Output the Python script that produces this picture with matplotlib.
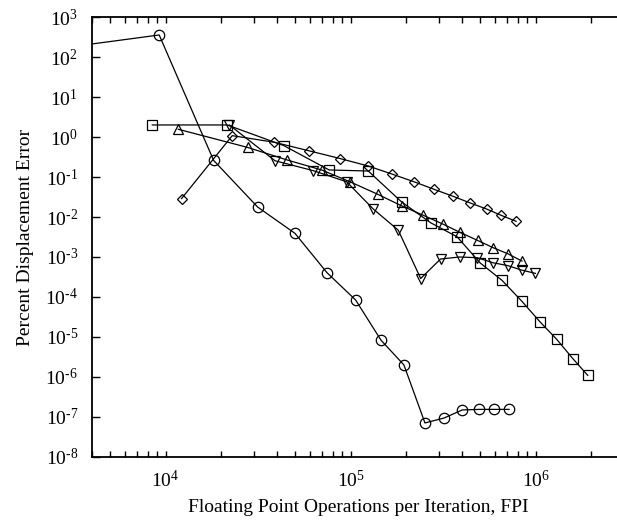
import numpy as np
import matplotlib
matplotlib.use('Agg')
import matplotlib.pyplot as plt
from matplotlib.ticker import LogLocator, FuncFormatter, NullLocator

plt.rcParams['font.family'] = 'Liberation Serif'
plt.rcParams['mathtext.fontset'] = 'custom'
plt.rcParams['mathtext.rm'] = 'Liberation Serif'
plt.rcParams['mathtext.it'] = 'Liberation Serif:italic'

# Error vs cost for the five schemes
circle_x = [2000, 9230, 18170, 31400, 50000, 74500, 106400, 145900, 194000,
            252000, 319000, 401000, 494000, 597000, 718000]
circle_y = [138, 355, 0.26, 0.0178, 0.0039, 4.05e-4, 8.4e-5, 8.3e-6, 2.0e-6,
            7.1e-8, 9.4e-8, 1.5e-7, 1.55e-7, 1.55e-7, 1.55e-7]

square_x = [8470, 21500, 43500, 76500, 124500, 188600, 271600, 376000, 501000,
            658000, 840000, 1054000, 1300000, 1585000, 1910000]
square_y = [2.0, 2.0, 0.61, 0.15, 0.141, 0.0237, 0.0071, 0.0032, 7.1e-4,
            2.6e-4, 7.9e-5, 2.4e-5, 8.7e-6, 2.9e-6, 1.1e-6]

diamond_x = [12200, 22900, 38600, 59700, 87500, 123600, 166700, 220000,
             283000, 357000, 443000, 543000, 651000, 783000]
diamond_y = [0.029, 1.08, 0.74, 0.45, 0.29, 0.19, 0.119, 0.076, 0.049,
             0.033, 0.0224, 0.0158, 0.011, 0.0078]

tri_up_x = [11700, 27700, 45400, 69700, 99100, 140000, 188600, 245000,
            314000, 391000, 485000, 590000, 708000, 843000]
tri_up_y = [1.56, 0.55, 0.266, 0.15, 0.076, 0.037, 0.019, 0.0112, 0.0067,
            0.0041, 0.0026, 0.0017, 0.0012, 7.9e-4]

tri_dn_x = [22100, 39000, 62800, 95100, 132500, 180700, 239000, 306000,
            388000, 483000, 586000, 706000, 840000, 996000]
tri_dn_y = [2.0, 0.255, 0.144, 0.076, 0.0158, 0.0047, 2.9e-4, 8.9e-4,
            1.0e-3, 9.6e-4, 7.2e-4, 6.1e-4, 4.7e-4, 3.9e-4]

fig = plt.figure(figsize=(6.17, 5.22), dpi=100)
ax = fig.add_axes([92/617, 65/522, 532/617, 440/522])

style = dict(color='k', lw=0.9, mfc='none', mec='k', mew=0.9)
ax.plot(circle_x, circle_y, marker='o', ms=7.5, **style)
ax.plot(square_x, square_y, marker='s', ms=6.5, **style)
ax.plot(diamond_x, diamond_y, marker='D', ms=5.5, **style)
ax.plot(tri_up_x, tri_up_y, marker='^', ms=7, **style)
ax.plot(tri_dn_x, tri_dn_y, marker='v', ms=7, **style)

ax.set_xscale('log')
ax.set_yscale('log')
ax.set_xlim(4000, 3e6)
ax.set_ylim(1e-8, 1e3)

ax.yaxis.set_major_locator(LogLocator(base=10, numticks=20))
ax.yaxis.set_minor_locator(NullLocator())
ax.xaxis.set_major_locator(LogLocator(base=10, numticks=20))
ax.xaxis.set_minor_locator(LogLocator(base=10, subs=np.arange(2, 10), numticks=20))


def fmt(v, pos):
    e = int(round(np.log10(v)))
    if e < 0:
        return r'$10^{\text{-}%d}$' % (-e)
    return r'$10^{%d}$' % e


ax.xaxis.set_major_formatter(FuncFormatter(fmt))
ax.yaxis.set_major_formatter(FuncFormatter(fmt))

ax.tick_params(which='both', direction='in', top=True, right=False,
               labelsize=14, width=1.0)
ax.tick_params(axis='x', which='both', length=4.5, pad=9)
ax.tick_params(axis='y', which='major', length=6, pad=10)
for s in ax.spines.values():
    s.set_linewidth(1.3)

ax.set_xlabel('Floating Point Operations per Iteration, FPI', fontsize=14, labelpad=6)
ax.set_ylabel('Percent Displacement Error', fontsize=14, labelpad=8)

fig.savefig('out.png', dpi=100)
